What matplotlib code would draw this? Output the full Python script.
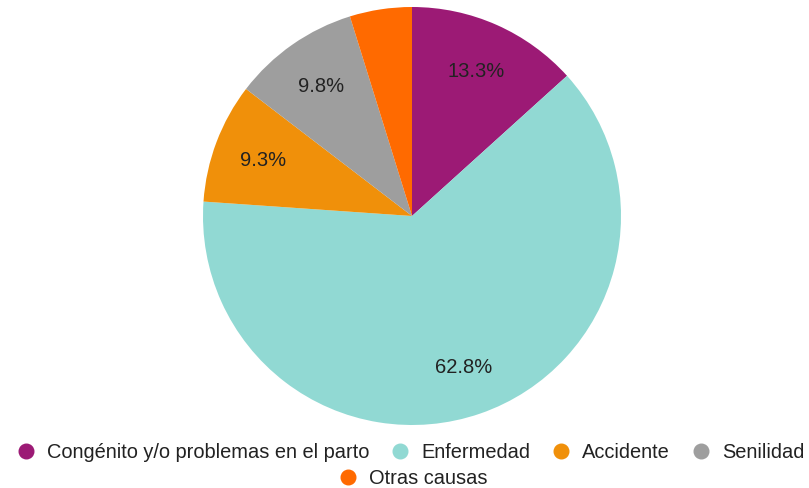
import matplotlib.pyplot as plt
from matplotlib.lines import Line2D

plt.rcParams['font.family'] = ['Liberation Sans', 'DejaVu Sans']

categories = ["Congénito y/o problemas en el parto", "Enfermedad", "Accidente",
              "Senilidad", "Otras causas"]
values = [13.3, 62.8, 9.3, 9.8, 4.8]
colors = ["#9C1A75", "#91D9D3", "#F0900A", "#9E9E9E", "#FF6A00"]

W, H = 809, 489
fig = plt.figure(figsize=(W / 100, H / 100), dpi=100)

cx, cy, r = 412, 217, 209
ax = fig.add_axes([(cx - r) / W, (H - cy - r) / H, 2 * r / W, 2 * r / H])


def fmt(p):
    return f"{p:.1f}%" if p > 5 else ""


wedges, texts, autotexts = ax.pie(values, colors=colors, startangle=90, counterclock=False,
                                  autopct=fmt, pctdistance=0.76,
                                  textprops={"fontsize": 14.5, "color": "#222222"})
ax.set_aspect("equal")
ax.set_xlim(-1, 1)
ax.set_ylim(-1, 1)


def handle(c):
    return Line2D([], [], marker="o", linestyle="", markersize=10.5, markerfacecolor=c,
                  markeredgecolor=c)


common = dict(loc="center", frameon=False, fontsize=14.4, handlelength=1.0,
              handletextpad=0.55, columnspacing=1.05, borderpad=0, labelcolor="#222222")
fig.legend([handle(c) for c in colors[:4]], categories[:4],
           bbox_to_anchor=(410 / W, 1 - 453 / H), ncol=4, **common)
fig.legend([handle(colors[4])], categories[4:],
           bbox_to_anchor=(413 / W, 1 - 479 / H), **common)

fig.savefig("out.png", dpi=100)
